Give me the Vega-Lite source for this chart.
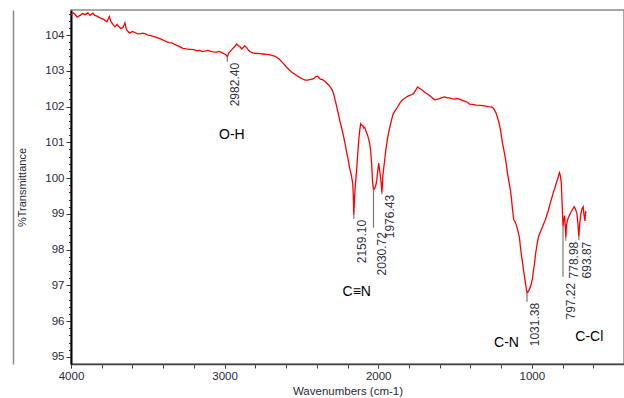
{
  "$schema": "https://vega.github.io/schema/vega-lite/v6.json",
  "width": 553,
  "height": 354,
  "autosize": {"type": "none"},
  "padding": {"left": 71, "top": 10, "right": 0, "bottom": 34},
  "background": "#ffffff",
  "config": {
    "view": {"stroke": "#8a8a8a", "strokeWidth": 1.5},
    "font": "Liberation Sans",
    "axis": {"grid": false, "labelFlush": false}
  },
  "resolve": {"axis": {"x": "independent", "y": "independent"}},
  "datasets": {
    "spectrum": [
      {"wn":4000,"t":104.56},{"wn":3985,"t":104.62},{"wn":3974,"t":104.58},{"wn":3960,"t":104.50},{"wn":3941,"t":104.55},{"wn":3925,"t":104.60},{"wn":3909,"t":104.57},{"wn":3890,"t":104.62},{"wn":3876,"t":104.55},{"wn":3857,"t":104.61},{"wn":3845,"t":104.55},{"wn":3831,"t":104.53},{"wn":3811,"t":104.48},{"wn":3795,"t":104.45},{"wn":3785,"t":104.43},{"wn":3766,"t":104.37},{"wn":3758,"t":104.45},{"wn":3750,"t":104.52},{"wn":3742,"t":104.40},{"wn":3733,"t":104.33},{"wn":3714,"t":104.23},{"wn":3700,"t":104.30},{"wn":3694,"t":104.26},{"wn":3675,"t":104.18},{"wn":3660,"t":104.22},{"wn":3649,"t":104.34},{"wn":3640,"t":104.16},{"wn":3625,"t":104.08},{"wn":3616,"t":104.06},{"wn":3600,"t":104.10},{"wn":3584,"t":104.07},{"wn":3570,"t":104.04},{"wn":3551,"t":104.03},{"wn":3535,"t":104.05},{"wn":3519,"t":104.04},{"wn":3500,"t":104.00},{"wn":3486,"t":103.99},{"wn":3470,"t":103.97},{"wn":3454,"t":103.95},{"wn":3440,"t":103.93},{"wn":3421,"t":103.90},{"wn":3400,"t":103.86},{"wn":3376,"t":103.81},{"wn":3360,"t":103.79},{"wn":3343,"t":103.78},{"wn":3330,"t":103.75},{"wn":3311,"t":103.71},{"wn":3290,"t":103.67},{"wn":3272,"t":103.63},{"wn":3250,"t":103.61},{"wn":3226,"t":103.60},{"wn":3200,"t":103.59},{"wn":3180,"t":103.56},{"wn":3161,"t":103.57},{"wn":3145,"t":103.54},{"wn":3129,"t":103.55},{"wn":3110,"t":103.57},{"wn":3096,"t":103.55},{"wn":3075,"t":103.53},{"wn":3051,"t":103.52},{"wn":3035,"t":103.54},{"wn":3018,"t":103.51},{"wn":3000,"t":103.47},{"wn":2990,"t":103.44},{"wn":2982,"t":103.39},{"wn":2975,"t":103.48},{"wn":2966,"t":103.53},{"wn":2952,"t":103.60},{"wn":2940,"t":103.65},{"wn":2930,"t":103.70},{"wn":2921,"t":103.75},{"wn":2910,"t":103.70},{"wn":2901,"t":103.68},{"wn":2888,"t":103.61},{"wn":2877,"t":103.66},{"wn":2869,"t":103.70},{"wn":2856,"t":103.64},{"wn":2845,"t":103.58},{"wn":2836,"t":103.54},{"wn":2817,"t":103.50},{"wn":2800,"t":103.49},{"wn":2771,"t":103.48},{"wn":2750,"t":103.47},{"wn":2726,"t":103.46},{"wn":2710,"t":103.45},{"wn":2693,"t":103.43},{"wn":2675,"t":103.41},{"wn":2661,"t":103.38},{"wn":2645,"t":103.33},{"wn":2628,"t":103.25},{"wn":2612,"t":103.18},{"wn":2596,"t":103.10},{"wn":2580,"t":103.03},{"wn":2563,"t":102.96},{"wn":2545,"t":102.91},{"wn":2531,"t":102.87},{"wn":2510,"t":102.81},{"wn":2492,"t":102.77},{"wn":2475,"t":102.74},{"wn":2459,"t":102.74},{"wn":2440,"t":102.76},{"wn":2427,"t":102.77},{"wn":2415,"t":102.80},{"wn":2407,"t":102.84},{"wn":2394,"t":102.85},{"wn":2385,"t":102.80},{"wn":2375,"t":102.76},{"wn":2365,"t":102.76},{"wn":2355,"t":102.73},{"wn":2345,"t":102.70},{"wn":2336,"t":102.66},{"wn":2325,"t":102.61},{"wn":2316,"t":102.57},{"wn":2305,"t":102.50},{"wn":2297,"t":102.44},{"wn":2287,"t":102.30},{"wn":2277,"t":102.12},{"wn":2264,"t":101.88},{"wn":2251,"t":101.62},{"wn":2238,"t":101.40},{"wn":2225,"t":101.15},{"wn":2215,"t":100.95},{"wn":2205,"t":100.70},{"wn":2195,"t":100.50},{"wn":2186,"t":100.28},{"wn":2175,"t":100.08},{"wn":2166,"t":99.85},{"wn":2162,"t":99.50},{"wn":2159,"t":98.97},{"wn":2155,"t":99.35},{"wn":2150,"t":99.75},{"wn":2140,"t":100.25},{"wn":2133,"t":100.70},{"wn":2127,"t":101.05},{"wn":2120,"t":101.35},{"wn":2114,"t":101.52},{"wn":2108,"t":101.48},{"wn":2101,"t":101.47},{"wn":2094,"t":101.40},{"wn":2088,"t":101.42},{"wn":2079,"t":101.30},{"wn":2069,"t":101.20},{"wn":2056,"t":100.98},{"wn":2049,"t":100.75},{"wn":2043,"t":100.40},{"wn":2037,"t":99.90},{"wn":2031,"t":99.68},{"wn":2024,"t":99.70},{"wn":2016,"t":99.80},{"wn":2010,"t":99.92},{"wn":2003,"t":100.20},{"wn":1997,"t":100.42},{"wn":1990,"t":100.20},{"wn":1984,"t":100.00},{"wn":1976,"t":99.59},{"wn":1970,"t":100.05},{"wn":1965,"t":100.25},{"wn":1958,"t":100.50},{"wn":1950,"t":100.80},{"wn":1939,"t":101.12},{"wn":1930,"t":101.32},{"wn":1919,"t":101.52},{"wn":1906,"t":101.75},{"wn":1895,"t":101.85},{"wn":1887,"t":101.90},{"wn":1875,"t":101.98},{"wn":1861,"t":102.08},{"wn":1845,"t":102.18},{"wn":1828,"t":102.23},{"wn":1812,"t":102.28},{"wn":1796,"t":102.31},{"wn":1783,"t":102.33},{"wn":1770,"t":102.36},{"wn":1757,"t":102.45},{"wn":1744,"t":102.55},{"wn":1735,"t":102.52},{"wn":1724,"t":102.49},{"wn":1711,"t":102.45},{"wn":1698,"t":102.40},{"wn":1680,"t":102.35},{"wn":1666,"t":102.31},{"wn":1650,"t":102.25},{"wn":1633,"t":102.19},{"wn":1620,"t":102.20},{"wn":1601,"t":102.22},{"wn":1585,"t":102.25},{"wn":1568,"t":102.27},{"wn":1552,"t":102.24},{"wn":1536,"t":102.24},{"wn":1520,"t":102.22},{"wn":1503,"t":102.21},{"wn":1487,"t":102.23},{"wn":1471,"t":102.21},{"wn":1455,"t":102.18},{"wn":1438,"t":102.15},{"wn":1420,"t":102.12},{"wn":1406,"t":102.07},{"wn":1385,"t":102.06},{"wn":1360,"t":102.04},{"wn":1335,"t":102.03},{"wn":1308,"t":102.02},{"wn":1285,"t":102.00},{"wn":1263,"t":101.99},{"wn":1250,"t":101.95},{"wn":1243,"t":101.90},{"wn":1233,"t":101.82},{"wn":1224,"t":101.70},{"wn":1214,"t":101.55},{"wn":1204,"t":101.35},{"wn":1197,"t":101.15},{"wn":1191,"t":100.98},{"wn":1182,"t":100.78},{"wn":1172,"t":100.55},{"wn":1165,"t":100.35},{"wn":1159,"t":100.15},{"wn":1150,"t":99.92},{"wn":1139,"t":99.65},{"wn":1132,"t":99.40},{"wn":1126,"t":99.12},{"wn":1118,"t":98.85},{"wn":1107,"t":98.76},{"wn":1095,"t":98.60},{"wn":1081,"t":98.35},{"wn":1075,"t":98.10},{"wn":1068,"t":97.85},{"wn":1060,"t":97.62},{"wn":1055,"t":97.45},{"wn":1048,"t":97.25},{"wn":1042,"t":97.07},{"wn":1036,"t":96.90},{"wn":1031,"t":96.79},{"wn":1024,"t":96.82},{"wn":1016,"t":96.88},{"wn":1006,"t":97.00},{"wn":996,"t":97.18},{"wn":990,"t":97.40},{"wn":983,"t":97.60},{"wn":975,"t":97.90},{"wn":964,"t":98.20},{"wn":955,"t":98.38},{"wn":944,"t":98.50},{"wn":931,"t":98.63},{"wn":920,"t":98.75},{"wn":912,"t":98.83},{"wn":900,"t":99.00},{"wn":892,"t":99.10},{"wn":880,"t":99.30},{"wn":873,"t":99.40},{"wn":860,"t":99.60},{"wn":853,"t":99.68},{"wn":840,"t":99.87},{"wn":830,"t":100.00},{"wn":824,"t":100.10},{"wn":820,"t":100.15},{"wn":814,"t":100.06},{"wn":808,"t":99.85},{"wn":802,"t":99.20},{"wn":797,"t":98.64},{"wn":792,"t":98.85},{"wn":787,"t":98.95},{"wn":783,"t":98.70},{"wn":779,"t":98.33},{"wn":774,"t":98.70},{"wn":766,"t":98.85},{"wn":756,"t":98.95},{"wn":745,"t":99.05},{"wn":735,"t":99.12},{"wn":725,"t":99.20},{"wn":715,"t":99.12},{"wn":706,"t":99.00},{"wn":700,"t":98.72},{"wn":694,"t":98.36},{"wn":688,"t":98.72},{"wn":681,"t":99.00},{"wn":673,"t":99.15},{"wn":666,"t":99.20},{"wn":660,"t":98.95},{"wn":654,"t":98.80},{"wn":650,"t":99.05},{"wn":645,"t":99.02}
    ],
    "peaks": [
      {"wn":2982.4,"t":103.39,"t2":103.25,"top":103.22,"label":"2982.40"},
      {"wn":2159.1,"t":98.97,"t2":98.86,"top":98.83,"label":"2159.10"},
      {"wn":2030.72,"t":99.68,"t2":98.61,"top":98.49,"label":"2030.72"},
      {"wn":1976.43,"t":99.59,"t2":99.55,"top":99.53,"label":"1976.43"},
      {"wn":1031.38,"t":96.79,"t2":96.54,"top":96.51,"label":"1031.38"},
      {"wn":797.22,"t":98.64,"t2":97.24,"top":97.07,"label":"797.22"},
      {"wn":778.98,"t":98.33,"t2":98.25,"top":98.22,"label":"778.98"},
      {"wn":693.87,"t":98.36,"t2":98.27,"top":98.22,"label":"693.87"}
    ],
    "groups": [
      {"wn":2953,"t":101.21,"label":"O-H"},
      {"wn":2140,"t":96.82,"label":"C≡N"},
      {"wn":1165,"t":95.40,"label":"C-N"},
      {"wn":626,"t":95.56,"label":"C-Cl"}
    ]
  },
  "layer": [
    {
      "data": {"name": "spectrum"},
      "mark": {"type": "line", "opacity": 0, "strokeWidth": 0},
      "encoding": {
        "x": {
          "field": "wn", "type": "quantitative",
          "scale": {"domain": [4000, 400], "nice": false, "zero": false},
          "axis": {
            "orient": "bottom",
            "title": null,
            "values": [4000,3800,3600,3400,3200,3000,2800,2600,2400,2200,2000,1800,1600,1400,1200,1000,800,600,400],
            "labels": false,
            "domain": false,
            "tickSize": 4,
            "tickColor": "#444",
            "tickWidth": 1
          }
        },
        "y": {
          "field": "t", "type": "quantitative",
          "scale": {"domain": [94.8, 104.7], "nice": false, "zero": false},
          "axis": {
            "orient": "left",
            "title": null,
            "values": [95.2,95.4,95.6,95.8,96.2,96.4,96.6,96.8,97.2,97.4,97.6,97.8,98.2,98.4,98.6,98.8,99.2,99.4,99.6,99.8,100.2,100.4,100.6,100.8,101.2,101.4,101.6,101.8,102.2,102.4,102.6,102.8,103.2,103.4,103.6,103.8,104.2,104.4,104.6],
            "labels": false,
            "domain": false,
            "tickSize": 2.5,
            "tickColor": "#333",
            "tickWidth": 1
          }
        }
      }
    },
    {
      "data": {"name": "spectrum"},
      "mark": {"type": "line", "opacity": 0, "strokeWidth": 0},
      "encoding": {
        "x": {"field": "wn", "type": "quantitative", "axis": null},
        "y": {
          "field": "t", "type": "quantitative",
          "axis": {
            "orient": "left",
            "title": null,
            "offset": 58,
            "labels": false,
            "ticks": false,
            "domain": true,
            "domainColor": "#8a8a8a",
            "domainWidth": 1.5
          }
        }
      }
    },
    {
      "data": {"name": "spectrum"},
      "mark": {"type": "line", "color": "#ff0000", "strokeWidth": 1.3, "clip": true},
      "encoding": {
        "x": {
          "field": "wn", "type": "quantitative",
          "axis": {
            "orient": "bottom",
            "title": "Wavenumbers (cm-1)",
            "values": [4000, 3000, 2000, 1000],
            "format": "d",
            "labelOverlap": false,
            "labelFlush": false,
            "tickSize": 4,
            "tickColor": "#444",
            "domainColor": "#444",
            "domainWidth": 1.5,
            "labelFont": "Liberation Sans",
            "labelFontSize": 11.5,
            "labelColor": "#2a2a35",
            "labelPadding": 2,
            "titleFont": "Liberation Sans",
            "titleFontSize": 11.5,
            "titleFontWeight": "normal",
            "titleColor": "#2a2a35",
            "titleBaseline": "middle",
            "titleY": 27
          }
        },
        "y": {
          "field": "t", "type": "quantitative",
          "axis": {
            "orient": "left",
            "title": "%Transmittance",
            "values": [95, 96, 97, 98, 99, 100, 101, 102, 103, 104],
            "format": "d",
            "labelOverlap": false,
            "labelFlush": false,
            "tickSize": 5,
            "tickColor": "#333",
            "domainColor": "#000",
            "domainWidth": 2,
            "labelFont": "Liberation Sans",
            "labelFontSize": 11.5,
            "labelColor": "#2a2a35",
            "labelPadding": 2,
            "titleFont": "Liberation Sans",
            "titleFontSize": 11,
            "titleFontWeight": "normal",
            "titleColor": "#2a2a35",
            "titleBaseline": "middle",
            "titleX": -49,
            "titleY": 177
          }
        }
      }
    },
    {
      "data": {"name": "peaks"},
      "mark": {"type": "rule", "color": "#7a7a7a", "strokeWidth": 1.2},
      "encoding": {
        "x": {"field": "wn", "type": "quantitative", "axis": null},
        "y": {"field": "t", "type": "quantitative", "axis": null},
        "y2": {"field": "t2"}
      }
    },
    {
      "data": {"name": "peaks"},
      "mark": {"type": "text", "angle": 270, "align": "right", "baseline": "middle", "dy": 8, "fontSize": 12, "font": "Liberation Sans", "color": "#33333f"},
      "encoding": {
        "x": {"field": "wn", "type": "quantitative", "axis": null},
        "y": {"field": "top", "type": "quantitative", "axis": null},
        "text": {"field": "label", "type": "nominal"}
      }
    },
    {
      "data": {"name": "groups"},
      "mark": {"type": "text", "align": "center", "baseline": "middle", "fontSize": 14, "font": "Liberation Sans", "color": "#000000"},
      "encoding": {
        "x": {"field": "wn", "type": "quantitative", "axis": null},
        "y": {"field": "t", "type": "quantitative", "axis": null},
        "text": {"field": "label", "type": "nominal"}
      }
    }
  ]
}
